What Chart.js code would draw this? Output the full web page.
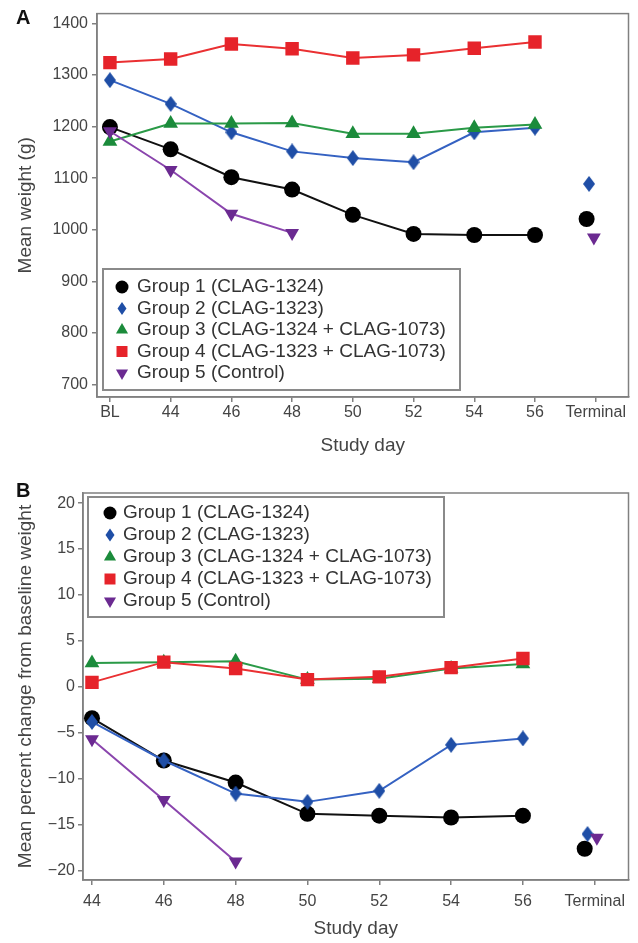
<!DOCTYPE html>
<html>
<head>
<meta charset="utf-8">
<script src="https://cdn.jsdelivr.net/npm/chart.js@4.4.1/dist/chart.umd.min.js"></script>
<style>
body { margin: 0; background: #fff; width: 638px; height: 943px; position: relative; overflow: hidden; font-family: "Liberation Sans", Arial, sans-serif; }
.panel { position: absolute; left: 0; width: 638px; }
#wrapA { top: 0; height: 465px; }
#wrapB { top: 465px; height: 478px; }
.tag { position: absolute; left: 16px; font-weight: bold; font-size: 20px; line-height: 20px; color: #111; }
</style>
</head>
<body>
<div class="panel" id="wrapA"><canvas id="chartA" width="638" height="465"></canvas></div>
<div class="panel" id="wrapB"><canvas id="chartB" width="638" height="478"></canvas></div>
<div class="tag" style="top:7px">A</div>
<div class="tag" style="top:480px">B</div>
<script>
// ---- data ----
const groupLabels = [
	"Group 1 (CLAG-1324)",
	"Group 2 (CLAG-1323)",
	"Group 3 (CLAG-1324 + CLAG-1073)",
	"Group 4 (CLAG-1323 + CLAG-1073)",
	"Group 5 (Control)"
];

// Panel A: mean weight (g); last entry is the Terminal value
const daysA = ["BL", "44", "46", "48", "50", "52", "54", "56", "Terminal"];
const weightTicks = [700, 800, 900, 1000, 1100, 1200, 1300, 1400];
const weightG1 = [1199, 1156, 1102, 1078, 1029, 992, 990, 990, 1021];
const weightG2 = [1290, 1244, 1189, 1152, 1139, 1131, 1189, 1198, 1089];
const weightG3 = [1171, 1206, 1206, 1207, 1186, 1186, 1198, 1204, null];
const weightG4 = [1324, 1331, 1360, 1351, 1333, 1339, 1352, 1364, null];
const weightG5 = [1191, 1116, 1031, 994, null, null, null, null, 985];

// Panel B: mean percent change from baseline weight
const daysB = ["44", "46", "48", "50", "52", "54", "56", "Terminal"];
const changeTicks = [-20, -15, -10, -5, 0, 5, 10, 15, 20];
const changeG1 = [-3.4, -8.0, -10.4, -13.8, -14.0, -14.2, -14.0, -17.6];
const changeG2 = [-3.8, -8.0, -11.6, -12.5, -11.3, -6.3, -5.6, -16.0];
const changeG3 = [2.6, 2.7, 2.8, 0.8, 0.9, 2.0, 2.5, null];
const changeG4 = [0.5, 2.7, 2.0, 0.8, 1.1, 2.1, 3.1, null];
const changeG5 = [-5.7, -12.3, -19.0, null, null, null, null, -16.4];

// ---- styles ----
function diamond(w, h, color) {
	const c = document.createElement("canvas");
	c.width = w; c.height = h;
	const g = c.getContext("2d");
	g.fillStyle = color;
	g.beginPath();
	g.moveTo(w / 2, 0); g.lineTo(w, h / 2); g.lineTo(w / 2, h); g.lineTo(0, h / 2);
	g.closePath();
	g.fill();
	return c;
}

const markers = [
	{ style: "circle", rotation: 0, radius: 8, fill: "#000000", line: "#111111" },
	{ style: diamond(12, 16, "#1f4ea6"), rotation: 0, radius: 8, fill: "#1f4ea6", line: "#3562c2" },
	{ style: "triangle", rotation: 0, radius: 8.5, fill: "#1b8b3b", line: "#2a9a47" },
	{ style: "rect", rotation: 0, radius: 9.5, fill: "#e6232a", line: "#ea3032" },
	{ style: "triangle", rotation: 180, radius: 8, fill: "#6b2a91", line: "#8a45ad" }
];
// small horizontal shifts of the Terminal markers, in category units
const terminalShiftA = [-0.15, -0.11, 0, 0, -0.03];
const terminalShiftB = [-0.14, -0.1, 0, 0, 0.03];

function groupDatasets(values, i, termShift) {
	const m = markers[i];
	const last = values.length - 1;
	const common = {
		label: groupLabels[i],
		pointStyle: m.style,
		pointRotation: m.rotation,
		pointRadius: m.radius,
		pointHoverRadius: m.radius,
		pointBackgroundColor: m.fill,
		pointBorderColor: m.fill,
		pointBorderWidth: 0,
		borderColor: m.line,
		borderWidth: 2,
		order: 5 - i
	};
	const pts = [];
	for (let k = 0; k < last; k++) {
		if (values[k] !== null) pts.push({ x: k, y: values[k] });
	}
	const sets = [{ ...common, data: pts }];
	if (values[last] !== null) {
		sets.push({ ...common, showLine: false, data: [{ x: last + termShift[i], y: values[last] }] });
	}
	return sets;
}

function drawMarker(ctx, m, x, y, s) {
	ctx.fillStyle = m.fill;
	ctx.beginPath();
	if (m.style === "circle") {
		ctx.arc(x, y, 6.5 * s, 0, Math.PI * 2);
	} else if (m.style === "rect") {
		ctx.rect(x - 5.5 * s, y - 5.5 * s, 11 * s, 11 * s);
	} else if (m.style === "triangle") {
		const r = 7 * s;
		const d = m.rotation ? -1 : 1;
		ctx.moveTo(x, y - d * r);
		ctx.lineTo(x + r * 0.866, y + d * r / 2);
		ctx.lineTo(x - r * 0.866, y + d * r / 2);
	} else {
		ctx.moveTo(x, y - 6.5 * s); ctx.lineTo(x + 4.5 * s, y);
		ctx.lineTo(x, y + 6.5 * s); ctx.lineTo(x - 4.5 * s, y);
	}
	ctx.closePath();
	ctx.fill();
}

const framePlugin = {
	id: "frame",
	beforeDatasetsDraw(chart) {
		const { ctx, chartArea: a } = chart;
		ctx.save();
		ctx.strokeStyle = "#808080";
		ctx.lineWidth = 1.5;
		ctx.strokeRect(a.left, a.top, a.right - a.left, a.bottom - a.top);
		ctx.restore();
	}
};

const boxLegendPlugin = {
	id: "boxLegend",
	afterDraw(chart, args, o) {
		const ctx = chart.ctx;
		ctx.save();
		ctx.fillStyle = "#ffffff";
		ctx.fillRect(o.left, o.top, o.width, o.height);
		ctx.strokeStyle = "#8a8a8a";
		ctx.lineWidth = 2;
		ctx.strokeRect(o.left, o.top, o.width, o.height);
		ctx.font = '19px "Liberation Sans", Arial, sans-serif';
		ctx.textBaseline = "middle";
		groupLabels.forEach((label, i) => {
			const y = o.top + o.firstRow + i * o.rowHeight;
			drawMarker(ctx, markers[i], o.markerX, y, 1);
			ctx.fillStyle = "#333333";
			ctx.fillText(label, o.textX, y);
		});
		ctx.restore();
	}
};

function buildChart(id, cfg) {
	const tickFont = { family: '"Liberation Sans", Arial, sans-serif', size: 16 };
	const titleFont = { family: '"Liberation Sans", Arial, sans-serif', size: 19 };
	const axisGrid = { drawOnChartArea: false, drawTicks: true, tickLength: 5, color: "#808080", lineWidth: 1.5 };
	const axisBorder = { display: true, color: "#808080", width: 1.5 };
	return new Chart(document.getElementById(id), {
		type: "line",
		data: { datasets: cfg.datasets },
		options: {
			responsive: false,
			animation: false,
			layout: { padding: { top: cfg.padTop, right: 8, left: 0, bottom: 0 } },
			plugins: {
				legend: { display: false },
				tooltip: { enabled: false },
				boxLegend: cfg.legend
			},
			scales: {
				x: {
					type: "linear",
					min: cfg.xMin,
					max: cfg.xMax,
					afterBuildTicks: s => { s.ticks = cfg.days.map((d, i) => ({ value: i })); },
					afterFit: s => { s.height = cfg.xHeight; },
					grid: axisGrid,
					border: axisBorder,
					ticks: {
						autoSkip: false,
						maxRotation: 0,
						padding: cfg.xTickPad,
						color: "#444",
						font: tickFont,
						callback: v => cfg.days[v] ?? ""
					},
					title: {
						display: true,
						text: "Study day",
						color: "#444",
						font: titleFont,
						padding: { top: 0, bottom: cfg.xTitlePad }
					}
				},
				y: {
					type: "linear",
					min: cfg.yMin,
					max: cfg.yMax,
					afterBuildTicks: s => { s.ticks = cfg.yTicks.map(v => ({ value: v })); },
					afterFit: s => { s.width = cfg.yWidth; },
					grid: axisGrid,
					border: axisBorder,
					ticks: {
						padding: cfg.yTickPad,
						color: "#444",
						font: tickFont,
						callback: v => (v < 0 ? "\u2212" + Math.abs(v) : String(v))
					},
					title: {
						display: true,
						text: cfg.yTitle,
						color: "#444",
						font: titleFont,
						padding: { top: 14, bottom: 0 }
					}
				}
			}
		},
		plugins: [framePlugin, boxLegendPlugin]
	});
}

const weightSeries = [weightG1, weightG2, weightG3, weightG4, weightG5];
const changeSeries = [changeG1, changeG2, changeG3, changeG4, changeG5];

buildChart("chartA", {
	datasets: weightSeries.flatMap((vals, i) => groupDatasets(vals, i, terminalShiftA)),
	days: daysA,
	yTicks: weightTicks,
	yTitle: "Mean weight (g)",
	xMin: -0.213, xMax: 8.54,
	yMin: 676, yMax: 1419,
	padTop: 7, xHeight: 68, yWidth: 97,
	xTickPad: 1, yTickPad: 4, xTitlePad: 7.6,
	legend: { left: 103, top: 269, width: 357, height: 121, firstRow: 18, rowHeight: 21.5, markerX: 122, textX: 137 }
});

buildChart("chartB", {
	datasets: changeSeries.flatMap((vals, i) => groupDatasets(vals, i, terminalShiftB)),
	days: daysB,
	yTicks: changeTicks,
	yTitle: "Mean percent change from baseline weight",
	xMin: -0.125, xMax: 7.47,
	yMin: -21, yMax: 21.1,
	padTop: 28, xHeight: 63, yWidth: 83,
	xTickPad: 7, yTickPad: 3, xTitlePad: 2.6,
	legend: { left: 88, top: 32, width: 356, height: 120, firstRow: 16, rowHeight: 22, markerX: 110, textX: 123 }
});
</script>
</body>
</html>
